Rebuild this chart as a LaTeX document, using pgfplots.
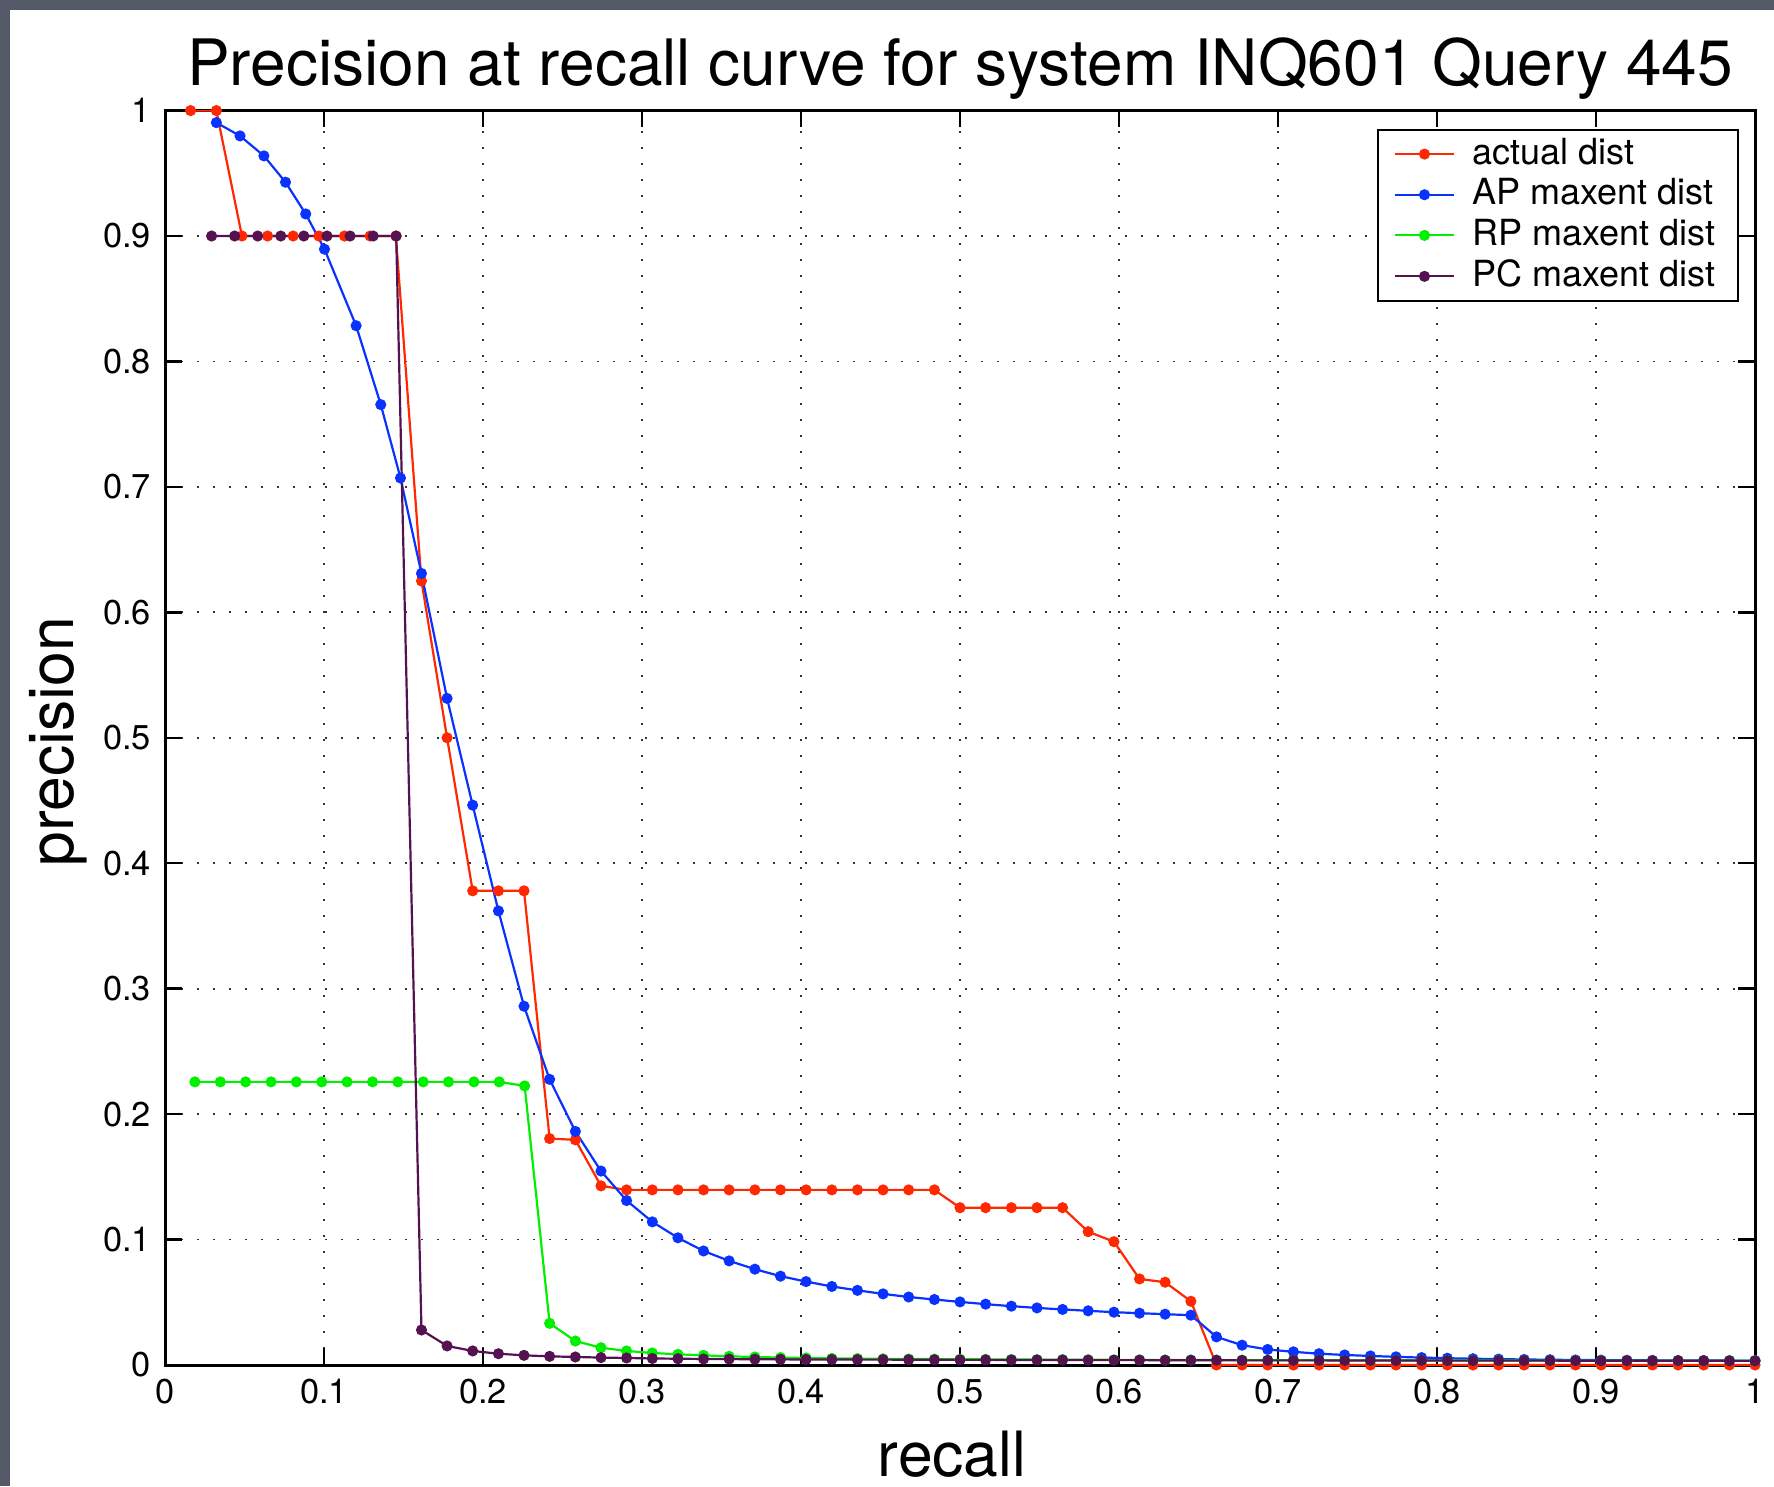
\documentclass[border=0pt]{standalone}
\usepackage{fontspec}
\setmainfont{TeX Gyre Heros}
\usepackage{pgfplots}
\usepackage{pgfplotstable}
\pgfplotsset{compat=1.18}
\definecolor{framegray}{RGB}{84,89,104}
\definecolor{cred}{RGB}{255,40,0}
\definecolor{cblue}{RGB}{10,50,255}
\definecolor{cgreen}{RGB}{0,240,0}
\definecolor{cpurple}{RGB}{85,18,80}

\pgfplotstableread{
x y
0.0161 1
0.0323 1
0.0484 0.9
0.0645 0.9
0.0806 0.9
0.0968 0.9
0.1129 0.9
0.1290 0.9
0.1452 0.9
0.1613 0.625
0.1774 0.5
0.1935 0.378
0.2097 0.378
0.2258 0.378
0.2419 0.1805
0.2581 0.1795
0.2742 0.1428
0.2903 0.1396
0.3065 0.1396
0.3226 0.1396
0.3387 0.1396
0.3548 0.1396
0.3710 0.1396
0.3871 0.1396
0.4032 0.1396
0.4194 0.1396
0.4355 0.1396
0.4516 0.1396
0.4677 0.1396
0.4839 0.1396
0.5000 0.1254
0.5161 0.1254
0.5323 0.1254
0.5484 0.1254
0.5645 0.1254
0.5806 0.1063
0.5968 0.0983
0.6129 0.0686
0.6290 0.0660
0.6452 0.0508
0.6613 0
0.6774 0
0.6935 0
0.7097 0
0.7258 0
0.7419 0
0.7581 0
0.7742 0
0.7903 0
0.8065 0
0.8226 0
0.8387 0
0.8548 0
0.8710 0
0.8871 0
0.9032 0
0.9194 0
0.9355 0
0.9516 0
0.9677 0
0.9839 0
1.0000 0
}\actual

\pgfplotstableread{
x y
0.0323 0.9904
0.0472 0.9798
0.0622 0.9639
0.0758 0.9429
0.0885 0.9176
0.1003 0.8895
0.1202 0.8285
0.1357 0.7656
0.1481 0.7071
0.1613 0.6310
0.1774 0.5314
0.1935 0.4463
0.2097 0.3620
0.2258 0.2860
0.2419 0.2277
0.2581 0.1862
0.2742 0.1546
0.2903 0.1311
0.3065 0.1141
0.3226 0.1014
0.3387 0.0909
0.3548 0.0830
0.3710 0.0764
0.3871 0.0708
0.4032 0.0665
0.4194 0.0626
0.4355 0.0595
0.4516 0.0567
0.4677 0.0542
0.4839 0.0522
0.5000 0.0503
0.5161 0.0485
0.5323 0.0469
0.5484 0.0455
0.5645 0.0443
0.5806 0.0432
0.5968 0.0421
0.6129 0.0413
0.6290 0.0405
0.6452 0.0397
0.6613 0.0224
0.6774 0.0158
0.6935 0.0124
0.7097 0.0105
0.7258 0.0090
0.7419 0.0080
0.7581 0.0072
0.7742 0.0065
0.7903 0.0059
0.8065 0.0054
0.8226 0.0050
0.8387 0.0047
0.8548 0.0044
0.8710 0.0042
0.8871 0.0040
0.9032 0.0039
0.9194 0.0038
0.9355 0.0037
0.9516 0.0036
0.9677 0.0036
0.9839 0.0035
1.0000 0.0035
}\apmax

\pgfplotstableread{
x y
0.0188 0.2257
0.0348 0.2257
0.0507 0.2257
0.0667 0.2257
0.0826 0.2257
0.0986 0.2257
0.1145 0.2257
0.1305 0.2257
0.1464 0.2257
0.1624 0.2257
0.1783 0.2257
0.1943 0.2257
0.2102 0.2257
0.2262 0.2225
0.2419 0.0332
0.2581 0.0191
0.2742 0.0138
0.2903 0.0112
0.3065 0.0096
0.3226 0.0085
0.3387 0.0077
0.3548 0.0069
0.3710 0.0064
0.3871 0.0059
0.4032 0.0056
0.4194 0.0053
0.4355 0.0051
0.4516 0.0049
0.4677 0.0048
0.4839 0.0047
0.5000 0.0046
0.5161 0.0045
0.5323 0.0044
0.5484 0.0043
0.5645 0.0043
0.5806 0.0042
0.5968 0.0041
0.6129 0.0041
0.6290 0.0040
0.6452 0.0040
0.6613 0.0039
0.6774 0.0039
0.6935 0.0038
0.7097 0.0038
0.7258 0.0038
0.7419 0.0037
0.7581 0.0037
0.7742 0.0037
0.7903 0.0036
0.8065 0.0036
0.8226 0.0036
0.8387 0.0036
0.8548 0.0035
0.8710 0.0035
0.8871 0.0035
0.9032 0.0035
0.9194 0.0035
0.9355 0.0034
0.9516 0.0034
0.9677 0.0034
0.9839 0.0034
1.0000 0.0034
}\rpmax

\pgfplotstableread{
x y
0.0293 0.9
0.0438 0.9
0.0583 0.9
0.0728 0.9
0.0873 0.9
0.1019 0.9
0.1164 0.9
0.1309 0.9
0.1454 0.9
0.1613 0.0279
0.1774 0.0152
0.1935 0.0112
0.2097 0.0090
0.2258 0.0077
0.2419 0.0069
0.2581 0.0064
0.2742 0.0059
0.2903 0.0056
0.3065 0.0052
0.3226 0.0050
0.3387 0.0048
0.3548 0.0047
0.3710 0.0046
0.3871 0.0045
0.4032 0.0044
0.4194 0.0044
0.4355 0.0043
0.4516 0.0043
0.4677 0.0042
0.4839 0.0042
0.5000 0.0041
0.5161 0.0041
0.5323 0.0040
0.5484 0.0040
0.5645 0.0040
0.5806 0.0039
0.5968 0.0039
0.6129 0.0039
0.6290 0.0038
0.6452 0.0038
0.6613 0.0038
0.6774 0.0037
0.6935 0.0037
0.7097 0.0037
0.7258 0.0037
0.7419 0.0036
0.7581 0.0036
0.7742 0.0036
0.7903 0.0036
0.8065 0.0035
0.8226 0.0035
0.8387 0.0035
0.8548 0.0035
0.8710 0.0035
0.8871 0.0034
0.9032 0.0034
0.9194 0.0034
0.9355 0.0034
0.9516 0.0034
0.9677 0.0034
0.9839 0.0033
1.0000 0.0033
}\pcmax

\begin{document}
\begin{tikzpicture}
\useasboundingbox (0,0) rectangle (443.5pt,371.5pt);
\fill[framegray] (0,0) rectangle (443.5pt,371.5pt);
\fill[white] (2.5pt,0) rectangle (443.5pt,369pt);
\begin{axis}[
  at={(41.25pt,30.25pt)}, anchor=south west,
  scale only axis, width=397.5pt, height=313.6pt,
  xmin=0, xmax=1, ymin=0, ymax=1,
  xtick={0,0.1,0.2,0.3,0.4,0.5,0.6,0.7,0.8,0.9,1},
  ytick={0,0.1,0.2,0.3,0.4,0.5,0.6,0.7,0.8,0.9,1},
  xticklabels={0,0.1,0.2,0.3,0.4,0.5,0.6,0.7,0.8,0.9,1},
  yticklabels={0,0.1,0.2,0.3,0.4,0.5,0.6,0.7,0.8,0.9,1},
  tick align=inside,
  major tick length=4.2pt,
  every tick/.style={black, line width=0.6pt},
  ticklabel style={font=\fontsize{8.6}{10}\selectfont},
  axis line style={line width=0.75pt},
  grid=major,
  major grid style={black!80, line width=0.45pt, dash pattern=on 0.45pt off 3.55pt},
  every axis title shift=0pt,
  title={Precision at recall curve for system INQ601 Query 445},
  title style={at={(0.5,1)}, anchor=base, yshift=6.2pt, inner sep=0pt, font=\fontsize{16}{19}\selectfont},
  xlabel={recall},
  xlabel style={at={(axis description cs:0.5,0)}, anchor=base, yshift=-27.75pt, xshift=-2pt, inner sep=0pt, font=\fontsize{15.6}{18}\selectfont},
  ylabel={precision},
  ylabel style={at={(axis description cs:-0.0576,0.497)}, anchor=base, rotate=0, inner sep=0pt, font=\fontsize{15.6}{18}\selectfont},
  legend style={at={(1,1)}, anchor=north east, xshift=-4pt, yshift=-4.5pt,
    draw=black, line width=0.5pt, fill=white,
    font=\fontsize{9}{10}\selectfont,
    inner xsep=4pt, inner ysep=0.5pt, row sep=-1.1pt, column sep=2.8pt,
    nodes={inner sep=1.6pt}},
  legend cell align=left,
  legend image code/.code={
    \draw[mark repeat=2, mark phase=2] plot coordinates {(0pt,0pt) (7.4pt,0pt) (14.8pt,0pt)};
  },
  every axis plot/.append style={line width=0.55pt, mark=*, mark size=1.1pt},
]
\addplot[color=cred, mark options={fill=cred, draw=cred}] table[x=x,y=y] {\actual};
\addlegendentry{actual dist}
\addplot[color=cblue, mark options={fill=cblue, draw=cblue}] table[x=x,y=y] {\apmax};
\addlegendentry{AP maxent dist}
\addplot[color=cgreen, mark options={fill=cgreen, draw=cgreen}] table[x=x,y=y] {\rpmax};
\addlegendentry{RP maxent dist}
\addplot[color=cpurple, mark options={fill=cpurple, draw=cpurple}] table[x=x,y=y] {\pcmax};
\addlegendentry{PC maxent dist}
\end{axis}
\end{tikzpicture}
\end{document}
